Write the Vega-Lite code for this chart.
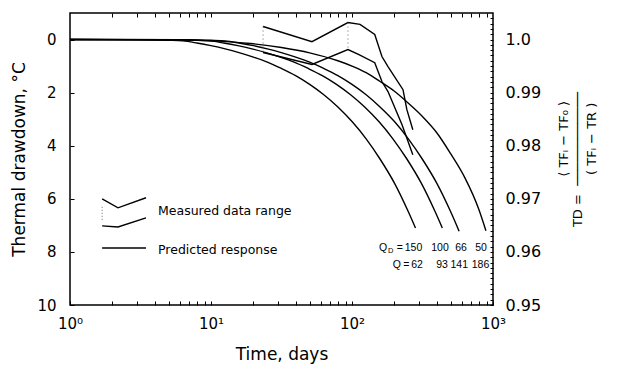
{
  "$schema": "https://vega.github.io/schema/vega-lite/v6.json",
  "width": 423,
  "height": 292,
  "autosize": {"type": "none"},
  "padding": {"left": 70, "top": 13, "right": 124, "bottom": 73},
  "background": "white",
  "config": {
    "font": "DejaVu Sans",
    "view": {"stroke": "black", "strokeWidth": 1.5},
    "axis": {
      "grid": false,
      "domain": false,
      "tickColor": "black",
      "tickWidth": 1,
      "labelColor": "black",
      "titleColor": "black",
      "labelFont": "DejaVu Sans",
      "titleFont": "DejaVu Sans",
      "titleFontWeight": "normal"
    }
  },
  "datasets": {
    "predicted": [
      {"q": "150", "t": 1, "d": 0}, {"q": "150", "t": 3.16, "d": 0.005}, {"q": "150", "t": 5.01, "d": 0.025}, {"q": "150", "t": 6.31, "d": 0.05}, {"q": "150", "t": 7.94, "d": 0.13}, {"q": "150", "t": 10, "d": 0.23}, {"q": "150", "t": 12.6, "d": 0.35}, {"q": "150", "t": 15.8, "d": 0.49}, {"q": "150", "t": 20, "d": 0.66}, {"q": "150", "t": 25.1, "d": 0.85}, {"q": "150", "t": 31.6, "d": 1.09}, {"q": "150", "t": 39.8, "d": 1.36}, {"q": "150", "t": 50.1, "d": 1.69}, {"q": "150", "t": 63.1, "d": 2.08}, {"q": "150", "t": 79.4, "d": 2.54}, {"q": "150", "t": 100, "d": 3.09}, {"q": "150", "t": 126, "d": 3.74}, {"q": "150", "t": 158, "d": 4.5}, {"q": "150", "t": 200, "d": 5.41}, {"q": "150", "t": 251, "d": 6.49}, {"q": "150", "t": 282, "d": 7.1},
      {"q": "100", "t": 1, "d": 0}, {"q": "100", "t": 4.9, "d": 0.005}, {"q": "100", "t": 7.76, "d": 0.025}, {"q": "100", "t": 9.77, "d": 0.05}, {"q": "100", "t": 12.3, "d": 0.13}, {"q": "100", "t": 15.5, "d": 0.23}, {"q": "100", "t": 19.5, "d": 0.35}, {"q": "100", "t": 24.5, "d": 0.49}, {"q": "100", "t": 31, "d": 0.66}, {"q": "100", "t": 38.9, "d": 0.85}, {"q": "100", "t": 48.9, "d": 1.09}, {"q": "100", "t": 61.6, "d": 1.36}, {"q": "100", "t": 77.6, "d": 1.69}, {"q": "100", "t": 97.7, "d": 2.08}, {"q": "100", "t": 123, "d": 2.54}, {"q": "100", "t": 155, "d": 3.09}, {"q": "100", "t": 195, "d": 3.74}, {"q": "100", "t": 245, "d": 4.5}, {"q": "100", "t": 310, "d": 5.41}, {"q": "100", "t": 389, "d": 6.49}, {"q": "100", "t": 437, "d": 7.1},
      {"q": "66", "t": 1, "d": 0}, {"q": "66", "t": 6.3, "d": 0.005}, {"q": "66", "t": 10, "d": 0.025}, {"q": "66", "t": 12.6, "d": 0.05}, {"q": "66", "t": 15.8, "d": 0.13}, {"q": "66", "t": 20, "d": 0.23}, {"q": "66", "t": 25.1, "d": 0.35}, {"q": "66", "t": 31.5, "d": 0.49}, {"q": "66", "t": 39.9, "d": 0.66}, {"q": "66", "t": 50.1, "d": 0.85}, {"q": "66", "t": 63, "d": 1.09}, {"q": "66", "t": 79.4, "d": 1.36}, {"q": "66", "t": 100, "d": 1.69}, {"q": "66", "t": 126, "d": 2.08}, {"q": "66", "t": 158, "d": 2.54}, {"q": "66", "t": 200, "d": 3.09}, {"q": "66", "t": 251, "d": 3.74}, {"q": "66", "t": 315, "d": 4.5}, {"q": "66", "t": 399, "d": 5.41}, {"q": "66", "t": 501, "d": 6.49}, {"q": "66", "t": 575, "d": 7.22},
      {"q": "50", "t": 1, "d": 0}, {"q": "50", "t": 5.01, "d": 0.01}, {"q": "50", "t": 10, "d": 0.05}, {"q": "50", "t": 19.05, "d": 0.15}, {"q": "50", "t": 31.6, "d": 0.3}, {"q": "50", "t": 50.1, "d": 0.5}, {"q": "50", "t": 79.4, "d": 0.8}, {"q": "50", "t": 100, "d": 1.0}, {"q": "50", "t": 126, "d": 1.25}, {"q": "50", "t": 158, "d": 1.58}, {"q": "50", "t": 200, "d": 1.95}, {"q": "50", "t": 251, "d": 2.4}, {"q": "50", "t": 316, "d": 2.9}, {"q": "50", "t": 398, "d": 3.5}, {"q": "50", "t": 501, "d": 4.3}, {"q": "50", "t": 631, "d": 5.2}, {"q": "50", "t": 794, "d": 6.4}, {"q": "50", "t": 891, "d": 7.2}
    ],
    "measured": [
      {"bound": "upper", "t": 23.4, "d": -0.49}, {"bound": "upper", "t": 52, "d": 0.08}, {"bound": "upper", "t": 93.6, "d": -0.64}, {"bound": "upper", "t": 114, "d": -0.57}, {"bound": "upper", "t": 145, "d": -0.19}, {"bound": "upper", "t": 163, "d": 0.64}, {"bound": "upper", "t": 180, "d": 1.02}, {"bound": "upper", "t": 230, "d": 1.89}, {"bound": "upper", "t": 245, "d": 2.64}, {"bound": "upper", "t": 270, "d": 3.4},
      {"bound": "lower", "t": 23.4, "d": 0.49}, {"bound": "lower", "t": 52, "d": 0.94}, {"bound": "lower", "t": 93.6, "d": 0.38}, {"bound": "lower", "t": 112, "d": 0.57}, {"bound": "lower", "t": 145, "d": 0.87}, {"bound": "lower", "t": 163, "d": 1.58}, {"bound": "lower", "t": 180, "d": 1.96}, {"bound": "lower", "t": 226, "d": 3.2}, {"bound": "lower", "t": 270, "d": 4.34}
    ],
    "ranges": [
      {"t": 23.4, "lo": -0.49, "hi": 0.49},
      {"t": 93.6, "lo": -0.64, "hi": 0.38}
    ],
    "legendGlyph": [
      {"g": "upper", "t": 1.69, "d": 6.0}, {"g": "upper", "t": 2.19, "d": 6.34}, {"g": "upper", "t": 3.46, "d": 5.96},
      {"g": "lower", "t": 1.69, "d": 7.02}, {"g": "lower", "t": 2.19, "d": 7.06}, {"g": "lower", "t": 3.46, "d": 6.72},
      {"g": "pred", "t": 1.69, "d": 7.85}, {"g": "pred", "t": 3.46, "d": 7.85}
    ],
    "legendRange": [{"t": 1.69, "lo": 6.3, "hi": 6.8}],
    "legendText": [
      {"t": 4.21, "d": 6.45, "text": "Measured data range"},
      {"t": 4.21, "d": 7.92, "text": "Predicted response"}
    ],
    "qLabels": [
      {"t": 166, "d": 7.85, "text": "Q"}, {"t": 218, "d": 7.85, "text": "="},
      {"t": 273, "d": 7.85, "text": "150"}, {"t": 421, "d": 7.85, "text": "100"}, {"t": 593, "d": 7.85, "text": "66"}, {"t": 822, "d": 7.85, "text": "50"},
      {"t": 208, "d": 8.49, "text": "Q"}, {"t": 243, "d": 8.49, "text": "="},
      {"t": 289, "d": 8.49, "text": "62"}, {"t": 435, "d": 8.49, "text": "93"}, {"t": 576, "d": 8.49, "text": "141"}, {"t": 815, "d": 8.49, "text": "186"}
    ],
    "qSub": [{"t": 188, "d": 7.97, "text": "D"}],
    "rightScale": [{"t": 1, "td": 1.005}, {"t": 1000, "td": 0.95}]
  },
  "layer": [
    {
      "layer": [
        {
          "data": {"name": "predicted"},
          "mark": {"type": "line", "color": "black", "strokeWidth": 1.4, "interpolate": "monotone"},
          "encoding": {
            "x": {
              "field": "t", "type": "quantitative",
              "scale": {"type": "log", "domain": [1, 1000]},
              "axis": {
                "orient": "bottom",
                "values": [1,2,3,4,5,6,7,8,9,10,20,30,40,50,60,70,80,90,100,200,300,400,500,600,700,800,900,1000],
                "labelExpr": "datum.value == 1 ? '10⁰' : datum.value == 10 ? '10¹' : datum.value == 100 ? '10²' : datum.value == 1000 ? '10³' : ''",
                "tickSize": -4,
                "labelPadding": 15,
                "labelFontSize": 15,
                "labelFlush": false,
                "labelOverlap": false,
                "title": "Time, days",
                "titleFontSize": 17,
                "titlePadding": 15
              }
            },
            "y": {
              "field": "d", "type": "quantitative",
              "scale": {"domain": [-1, 10], "reverse": true, "zero": false, "nice": false},
              "axis": {
                "orient": "left",
                "values": [0,1,2,3,4,5,6,7,8,9,10],
                "labelExpr": "datum.value % 2 == 0 ? datum.label : ''",
                "tickSize": -4,
                "labelPadding": 18,
                "labelFontSize": 15,
                "labelOverlap": false,
                "title": "Thermal drawdown, °C",
                "titleFontSize": 17,
                "titlePadding": 8
              }
            },
            "detail": {"field": "q"}
          }
        },
        {
          "data": {"name": "measured"},
          "mark": {"type": "line", "color": "black", "strokeWidth": 1.4},
          "encoding": {
            "x": {"field": "t", "type": "quantitative", "scale": {"type": "log", "domain": [1, 1000]}},
            "y": {"field": "d", "type": "quantitative", "scale": {"domain": [-1, 10], "reverse": true, "zero": false, "nice": false}},
            "detail": {"field": "bound"}
          }
        },
        {
          "data": {"name": "ranges"},
          "mark": {"type": "rule", "color": "#666", "strokeWidth": 1, "strokeDash": [1, 3]},
          "encoding": {
            "x": {"field": "t", "type": "quantitative", "scale": {"type": "log", "domain": [1, 1000]}},
            "y": {"field": "lo", "type": "quantitative", "scale": {"domain": [-1, 10], "reverse": true, "zero": false, "nice": false}},
            "y2": {"field": "hi"}
          }
        },
        {
          "data": {"name": "legendGlyph"},
          "mark": {"type": "line", "color": "black", "strokeWidth": 1.4},
          "encoding": {
            "x": {"field": "t", "type": "quantitative", "scale": {"type": "log", "domain": [1, 1000]}},
            "y": {"field": "d", "type": "quantitative", "scale": {"domain": [-1, 10], "reverse": true, "zero": false, "nice": false}},
            "detail": {"field": "g"}
          }
        },
        {
          "data": {"name": "legendRange"},
          "mark": {"type": "rule", "color": "#666", "strokeWidth": 1, "strokeDash": [1, 2]},
          "encoding": {
            "x": {"field": "t", "type": "quantitative", "scale": {"type": "log", "domain": [1, 1000]}},
            "y": {"field": "lo", "type": "quantitative", "scale": {"domain": [-1, 10], "reverse": true, "zero": false, "nice": false}},
            "y2": {"field": "hi"}
          }
        },
        {
          "data": {"name": "legendText"},
          "mark": {"type": "text", "align": "left", "baseline": "middle", "fontSize": 12.5, "color": "black"},
          "encoding": {
            "x": {"field": "t", "type": "quantitative", "scale": {"type": "log", "domain": [1, 1000]}},
            "y": {"field": "d", "type": "quantitative", "scale": {"domain": [-1, 10], "reverse": true, "zero": false, "nice": false}},
            "text": {"field": "text"}
          }
        },
        {
          "data": {"name": "qLabels"},
          "mark": {"type": "text", "align": "center", "baseline": "middle", "fontSize": 10.5, "font": "Liberation Sans", "color": "black"},
          "encoding": {
            "x": {"field": "t", "type": "quantitative", "scale": {"type": "log", "domain": [1, 1000]}},
            "y": {"field": "d", "type": "quantitative", "scale": {"domain": [-1, 10], "reverse": true, "zero": false, "nice": false}},
            "text": {"field": "text"}
          }
        },
        {
          "data": {"name": "qSub"},
          "mark": {"type": "text", "align": "center", "baseline": "middle", "fontSize": 7.5, "font": "Liberation Sans", "color": "black"},
          "encoding": {
            "x": {"field": "t", "type": "quantitative", "scale": {"type": "log", "domain": [1, 1000]}},
            "y": {"field": "d", "type": "quantitative", "scale": {"domain": [-1, 10], "reverse": true, "zero": false, "nice": false}},
            "text": {"field": "text"}
          }
        }
      ]
    },
    {
      "data": {"name": "rightScale"},
      "mark": {"type": "point", "opacity": 0},
      "encoding": {
        "x": {
          "field": "t", "type": "quantitative",
          "scale": {"type": "log", "domain": [1, 1000]},
          "axis": {
            "orient": "top",
            "values": [2,3,4,5,6,7,8,9,10,20,30,40,50,60,70,80,90,100,200,300,400,500,600,700,800,900],
            "labels": false,
            "tickSize": -4,
            "title": null
          }
        },
        "y": {
          "field": "td", "type": "quantitative",
          "scale": {"domain": [0.95, 1.005], "zero": false, "nice": false},
          "axis": {
            "orient": "right",
            "values": [0.95,0.951,0.952,0.953,0.954,0.955,0.956,0.957,0.958,0.959,0.96,0.961,0.962,0.963,0.964,0.965,0.966,0.967,0.968,0.969,0.97,0.971,0.972,0.973,0.974,0.975,0.976,0.977,0.978,0.979,0.98,0.981,0.982,0.983,0.984,0.985,0.986,0.987,0.988,0.989,0.99,0.991,0.992,0.993,0.994,0.995,0.996,0.997,0.998,0.999,1.0,1.001,1.002,1.003,1.004],
            "labelExpr": "abs(datum.value * 100 - round(datum.value * 100)) < 0.01 ? (datum.value > 0.9995 && datum.value < 1.0005 ? '1.0' : (datum.value > 1.0005 ? '' : format(datum.value, '.2f'))) : ''",
            "tickSize": -3,
            "labelPadding": 15,
            "labelFontSize": 16,
            "labelFlush": false,
            "labelOverlap": false,
            "title": ["\u200b\u00a0\u00a0\u00a0\u00a0\u00a0\u00a0\u00a0\u00a0\u00a0\u00a0\u00a0\u00a0\u00a0\u00a0\u00a0\u00a0⟨ TFᵢ  −  TF₀ ⟩\u00a0\u00a0\u00a0\u00a0\u00a0\u00a0\u200b", "TD =\u00a0\u00a0────────────", "\u200b\u00a0\u00a0\u00a0\u00a0\u00a0\u00a0\u00a0\u00a0\u00a0\u00a0\u00a0\u00a0\u00a0\u00a0\u00a0\u00a0( TFᵢ  −  TR )\u00a0\u00a0\u00a0\u00a0\u00a0\u00a0\u200b"],
            "titleAngle": -90,
            "titleFontSize": 13,
            "titleLineHeight": 14,
            "titlePadding": 2
          }
        }
      }
    }
  ],
  "resolve": {"scale": {"y": "independent"}, "axis": {"x": "independent"}}
}
